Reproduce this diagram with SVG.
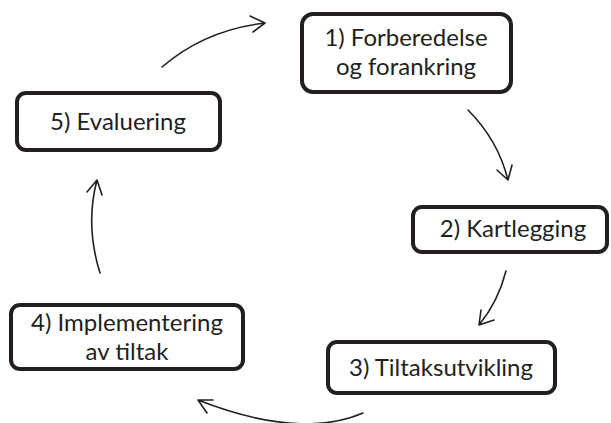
<svg xmlns="http://www.w3.org/2000/svg" width="611" height="423" viewBox="0 0 611 423">
<style>
.box{fill:#fff;stroke:#231f20;stroke-width:4;}
.t{font-family:Lato,"Open Sans",sans-serif;font-size:24px;fill:#231f20;text-anchor:middle;}
.c{fill:none;stroke:#231f20;stroke-width:1.6;stroke-linecap:round;stroke-linejoin:round;}
</style>
<rect width="611" height="423" fill="#fff"/>
<g id="n1"><rect class="box" x="302" y="14" width="209" height="78" rx="11"/><text class="t" x="406" y="46">1) Forberedelse</text><text class="t" x="406" y="75">og forankring</text></g>
<g id="n2"><rect class="box" x="413" y="207" width="194" height="45" rx="9"/><text class="t" x="513" y="237">2) Kartlegging</text></g>
<g id="n3"><rect class="box" x="328" y="342" width="227" height="51" rx="9"/><text class="t" x="441" y="376">3) Tiltaksutvikling</text></g>
<g id="n4"><rect class="box" x="11" y="305" width="232" height="64" rx="9"/><text class="t" x="127" y="331">4) Implementering</text><text class="t" x="127" y="360">av tiltak</text></g>
<g id="n5"><rect class="box" x="17" y="93" width="203" height="57" rx="9"/><text class="t" x="118" y="130">5) Evaluering</text></g>
<g id="connectors">
<path class="c" d="M162,67 Q205,30 265,23 M250,16 L265,23 L253,32"/>
<path class="c" d="M468,110 Q498,140 508,180 M497,170 L508,180 L512,165"/>
<path class="c" d="M506,271 Q498,302 479,325 M481,310 L479,325 L494,320"/>
<path class="c" d="M363,413 Q300,440 198,400 M213,400 L198,400 L207,413"/>
<path class="c" d="M100,273 Q85,225 97,180 M87,192 L97,180 L102,195"/>
</g>
</svg>
